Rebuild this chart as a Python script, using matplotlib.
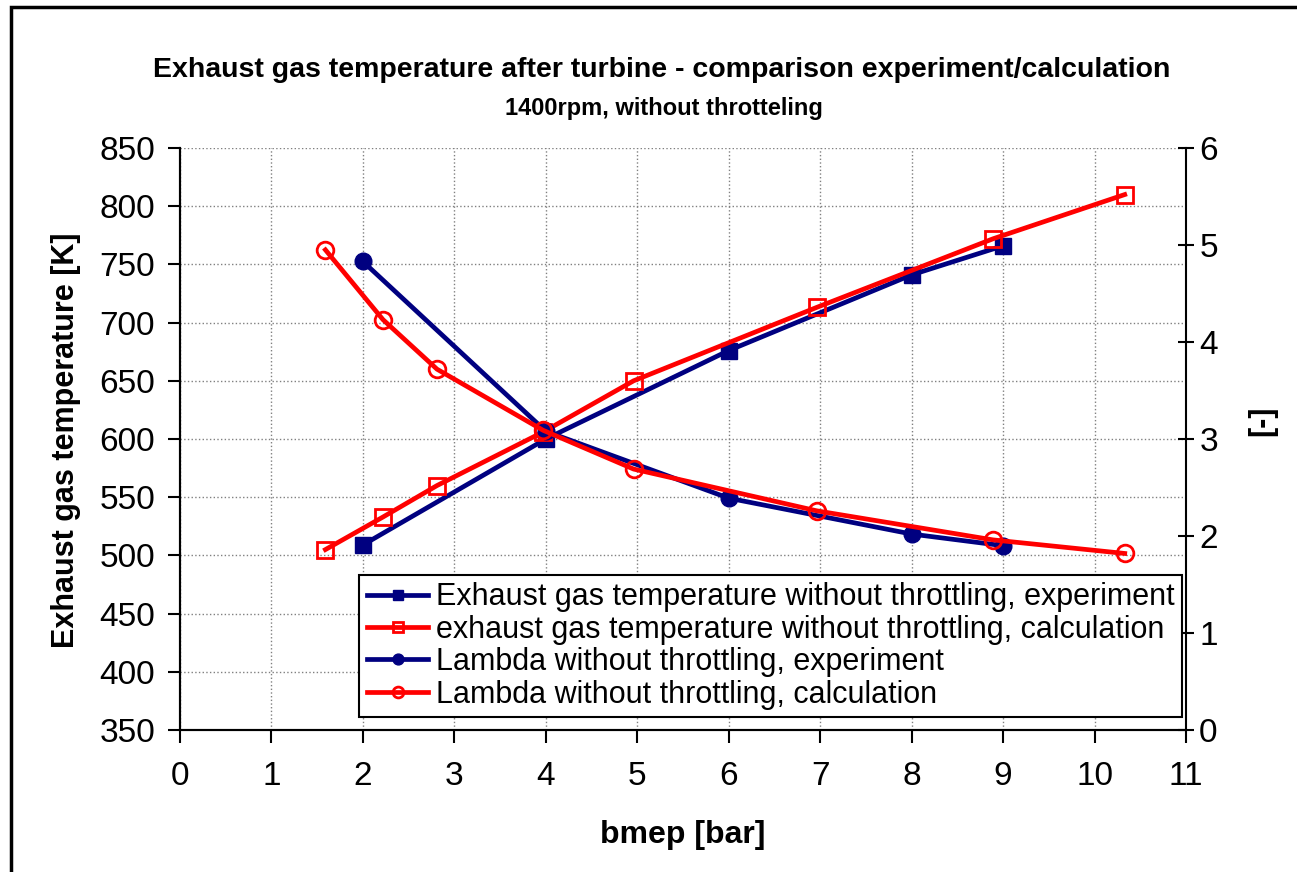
import matplotlib
matplotlib.use("Agg")
import matplotlib.pyplot as plt
from matplotlib.patches import Rectangle

plt.rcParams['font.family'] = ['Liberation Sans', 'DejaVu Sans']

# experiment points
bmep_exp = [2.0, 4.0, 6.0, 8.0, 9.0]
temp_exp = [509, 600, 676, 741, 766]
lambda_exp = [4.83, 3.08, 2.39, 2.02, 1.90]

# calculation points
bmep_calc = [1.59, 2.22, 2.81, 3.97, 4.96, 6.96, 8.89, 10.33]
temp_calc = [505, 533, 560, 606, 650, 713, 772, 810]
lambda_calc = [4.95, 4.23, 3.72, 3.09, 2.69, 2.26, 1.96, 1.82]

labels = ["Exhaust gas temperature without throttling, experiment",
          "exhaust gas temperature without throttling, calculation",
          "Lambda without throttling, experiment",
          "Lambda without throttling, calculation"]

navy = '#000080'
red = '#FF0000'

fig = plt.figure(figsize=(12.97, 8.72), dpi=100)
ax = fig.add_axes([180/1297, 1 - 730/872, 1006/1297, 582/872])
ax2 = ax.twinx()

l1, = ax.plot(bmep_exp, temp_exp, color=navy, lw=3.4, marker='s', ms=11,
              mfc=navy, mec=navy, label=labels[0])
l2, = ax.plot(bmep_calc, temp_calc, color=red, lw=3.4, marker='s', ms=12,
              mfc='none', mec=red, mew=2, label=labels[1])
l3, = ax2.plot(bmep_exp, lambda_exp, color=navy, lw=3.4, marker='o', ms=12,
               mfc=navy, mec=navy, label=labels[2])
l4, = ax2.plot(bmep_calc, lambda_calc, color=red, lw=3.4, marker='o', ms=12,
               mfc='none', mec=red, mew=2, label=labels[3])

ax.set_xlim(0, 11)
ax.set_ylim(350, 850)
ax2.set_ylim(0, 6)
ax.set_xticks(range(0, 12))
ax.set_yticks(range(350, 851, 50))
ax2.set_yticks(range(0, 7))

ax.grid(True, color='#808080', ls=':', lw=1.0)
ax.set_axisbelow(True)

for a in (ax, ax2):
    a.spines['top'].set_visible(False)
    for s in a.spines.values():
        s.set_linewidth(1.5)
ax.spines['right'].set_visible(False)

ax.tick_params(axis='y', direction='out', length=9, width=1.5, pad=9,
               labelsize=24)
ax.tick_params(axis='x', direction='out', length=9, width=1.5, pad=13,
               labelsize=24)
ax2.tick_params(axis='y', direction='inout', length=11, width=1.5, pad=4,
                labelsize=24)

fig.text(662/1297, 1 - 70/872,
         "Exhaust gas temperature after turbine - comparison experiment/calculation",
         ha='center', va='center', fontsize=20.5, fontweight='bold')
fig.text(664/1297, 1 - 108/872, "1400rpm, without throtteling",
         ha='center', va='center', fontsize=17, fontweight='bold')
fig.text(66/1297, 1 - 440/872, "Exhaust gas temperature [K]", rotation=90,
         ha='center', va='center', fontsize=22, fontweight='bold')
fig.text(1262/1297, 1 - 421/872, "[-]", rotation=90,
         ha='center', va='center', fontsize=22, fontweight='bold')
fig.text(683/1297, 1 - 835/872, "bmep [bar]",
         ha='center', va='center', fontsize=23, fontweight='bold')

leg = ax2.legend(handles=[l1, l2, l3, l4], loc='lower right',
                 bbox_to_anchor=(0.996, 0.022), borderaxespad=0,
                 fontsize=22, fancybox=False, framealpha=1,
                 edgecolor='black', markerscale=0.65, handlelength=2.0,
                 handletextpad=0.25, labelspacing=0.08, borderpad=0.25)
leg.get_frame().set_linewidth(1.5)

fig.patches.append(Rectangle((11/1297, -0.1), 1.1, 1.092, fill=False,
                             lw=2.5, ec='black', transform=fig.transFigure))

fig.savefig("out.png", dpi=100)
